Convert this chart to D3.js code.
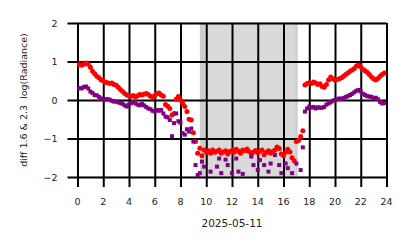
<!DOCTYPE html>
<html><head><meta charset="utf-8">
<script src="https://cdn.jsdelivr.net/npm/d3@7"></script>
<style>
html,body{margin:0;padding:0;background:#fff;}
svg{display:block;font-family:"DejaVu Sans",sans-serif;}
</style></head>
<body><svg id="c" width="414" height="248"></svg>
<script>
// 10-minute samples, hours 0..23.83
const redValues = [
 0.91,0.92,0.90,0.93,0.96,0.93,
 0.85,0.75,0.68,0.62,0.58,0.52,
 0.50,0.46,0.45,0.43,0.44,0.40,
 0.38,0.33,0.27,0.22,0.17,0.13,
 0.11,0.10,0.12,0.08,0.11,0.14,
 0.13,0.15,0.17,0.14,0.10,0.07,
 0.12,0.16,0.18,0.13,0.10,-0.12,
 -0.16,-0.22,-0.39,-0.35,0.02,0.09,
 0.00,-0.09,-0.17,-0.30,-0.50,-0.52,
 -0.85,-1.08,-1.38,-1.25,-1.45,-1.30,
 -1.35,-1.32,-1.38,-1.30,-1.36,-1.33,
 -1.30,-1.38,-1.35,-1.32,-1.40,-1.34,
 -1.31,-1.36,-1.28,-1.33,-1.38,-1.30,
 -1.32,-1.27,-1.34,-1.40,-1.35,-1.31,
 -1.37,-1.33,-1.30,-1.42,-1.36,-1.32,
 -1.38,-1.34,-1.30,-1.22,-1.26,-1.40,
 -1.45,-1.36,-1.28,-1.35,-1.50,-1.58,
 -1.08,-1.05,-0.95,-0.80,0.39,0.43,
 0.45,0.43,0.47,0.44,0.40,0.42,
 0.35,0.33,0.40,0.52,0.60,0.55,
 0.52,0.53,0.55,0.58,0.62,0.66,
 0.70,0.75,0.78,0.82,0.88,0.91,
 0.86,0.80,0.76,0.72,0.66,0.60,
 0.55,0.52,0.56,0.62,0.66,0.70
];
const purpleValues = [
 0.30,0.31,0.30,0.34,0.35,0.30,
 0.22,0.18,0.13,0.12,0.08,0.04,
 0.03,0.02,0.02,0.01,-0.02,-0.04,
 -0.04,-0.06,-0.08,-0.10,-0.14,-0.17,
 -0.12,-0.08,-0.05,-0.09,-0.12,-0.14,
 -0.10,-0.14,-0.18,-0.22,-0.24,-0.28,
 -0.30,-0.26,-0.28,-0.26,-0.35,-0.43,
 -0.45,-0.52,-0.94,-0.60,-0.35,-0.55,
 -0.59,-0.86,-0.90,-0.76,-0.82,-0.74,
 -1.08,-1.69,-1.95,-1.90,-1.60,-1.73,
 -2.20,-2.40,-1.86,-2.30,-2.20,-1.73,
 -1.52,-1.90,-2.30,-1.55,-1.69,-2.20,
 -1.90,-2.30,-1.52,-1.86,-2.30,-1.92,
 -2.20,-2.40,-2.20,-1.47,-1.69,-2.30,
 -1.82,-1.56,-2.30,-1.69,-2.20,-1.86,
 -1.65,-2.30,-1.43,-2.20,-1.69,-1.90,
 -2.30,-1.65,-1.77,-2.20,-1.90,-2.30,
 -1.65,-2.20,-1.82,-1.23,-0.30,-0.22,
 -0.17,-0.20,-0.18,-0.22,-0.19,-0.20,
 -0.20,-0.18,-0.12,-0.09,-0.06,-0.02,
 0.00,0.02,0.04,0.03,0.05,0.08,
 0.10,0.13,0.16,0.20,0.24,0.26,
 0.22,0.16,0.13,0.10,0.09,0.08,
 0.04,0.06,0.02,-0.05,-0.09,-0.08
];
const sampleHours = redValues.map((_, i) => i / 6);
const xTicks = [0,2,4,6,8,10,12,14,16,18,20,22,24];
const yTicks = [-2,-1,0,1,2];
const nightSpan = [9.9, 16.9];
const twilightSpans = [[9.5, 9.9],[16.9, 17.1]];
const xLabel = "2025-05-11";
const yLabel = "diff 1.6 & 2.3  log(Radiance)";

const svg = d3.select("#c");
const x = d3.scaleLinear().domain([0,24]).range([77.5,386.5]);
const y = d3.scaleLinear().domain([-2,2]).range([177,23]);

svg.append("defs").append("clipPath").attr("id","clip")
  .append("rect").attr("x",x(0)).attr("y",y(2)).attr("width",x(24)-x(0)).attr("height",y(-2)-y(2));

// shading
svg.append("rect").attr("x",x(nightSpan[0])).attr("y",y(2))
  .attr("width",x(nightSpan[1])-x(nightSpan[0])).attr("height",y(-2)-y(2)).attr("fill","#d9d9d9");
svg.selectAll("rect.tw").data(twilightSpans).join("rect").attr("class","tw")
  .attr("x",d=>x(d[0])).attr("y",y(2)).attr("width",d=>x(d[1])-x(d[0])).attr("height",y(-2)-y(2))
  .attr("fill","#cdcdcd");

// frame
svg.append("rect").attr("x",x(0)).attr("y",y(2)).attr("width",x(24)-x(0)+1).attr("height",y(-2)-y(2))
  .attr("fill","none").attr("stroke","#cccccc").attr("stroke-width",1);

// grid + ticks
const gx = svg.append("g").attr("transform",`translate(0,${y(-2)})`)
  .call(d3.axisBottom(x).tickValues(xTicks).tickSize(-(y(-2)-y(2))).tickSizeOuter(0).tickFormat(""));
gx.select(".domain").remove();
gx.selectAll(".tick line").attr("stroke","#000").attr("stroke-width",2).attr("y1",10);

const gy = svg.append("g").attr("transform",`translate(${x(0)},0)`)
  .call(d3.axisLeft(y).tickValues(yTicks).tickSize(-(x(24)-x(0))).tickSizeOuter(0).tickFormat(""));
gy.select(".domain").remove();
gy.selectAll(".tick line").attr("stroke","#000").attr("stroke-width",2).attr("x1",-10);

// tick labels
svg.append("g").selectAll("text").data(xTicks).join("text")
  .attr("x",d=>x(d)).attr("y",204.5).attr("text-anchor","middle")
  .attr("font-size",9.5).attr("fill","#222").text(d=>d);
svg.append("g").selectAll("text").data(yTicks).join("text")
  .attr("x",57.5).attr("y",d=>y(d)+3.5).attr("text-anchor","end")
  .attr("font-size",9.5).attr("fill","#222").text(d=>d<0?"\u2212"+Math.abs(d):d);

svg.append("text").attr("x",(x(0)+x(24))/2).attr("y",226.5).attr("text-anchor","middle")
  .attr("font-size",10.5).attr("fill","#222").text(xLabel);
svg.append("text").attr("transform",`translate(26.5,${(y(2)+y(-2))/2}) rotate(-90)`)
  .attr("text-anchor","middle").attr("font-size",9.5).attr("fill","#222")
  .style("white-space","pre").text(yLabel);

// data
const pts = svg.append("g").attr("clip-path","url(#clip)");
pts.selectAll("circle").data(redValues).join("circle")
  .attr("cx",(d,i)=>x(sampleHours[i])).attr("cy",d=>y(d)).attr("r",2.5).attr("fill","#ff0000");
pts.selectAll("rect").data(purpleValues).join("rect")
  .attr("x",(d,i)=>x(sampleHours[i])-2).attr("y",d=>y(d)-2).attr("width",4).attr("height",4).attr("fill","#800080");
</script></body></html>
